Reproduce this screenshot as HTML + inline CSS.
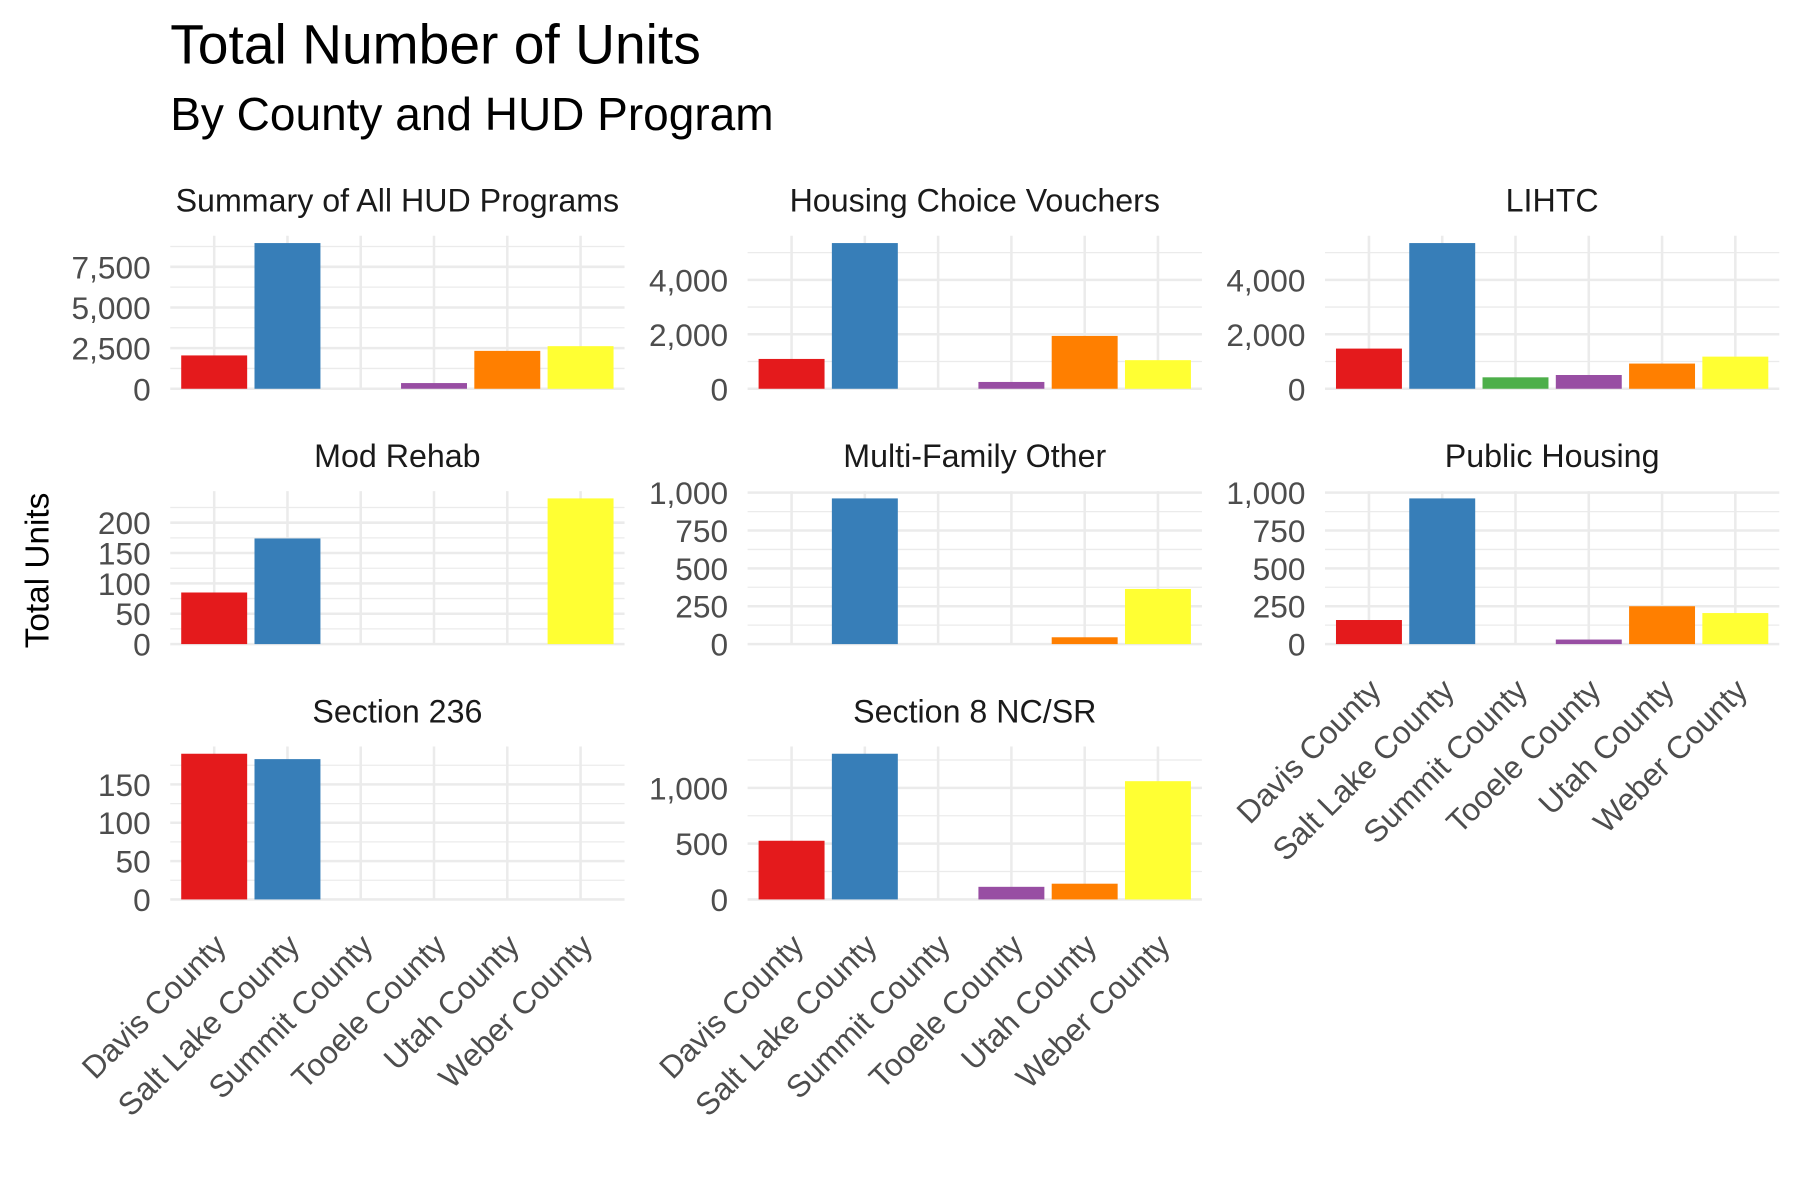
<!DOCTYPE html>
<html><head><meta charset="utf-8"><style>
html,body{margin:0;padding:0;background:#fff;}
svg{display:block;font-family:"Liberation Sans",Arial,sans-serif;}
</style></head><body>
<svg id="chart" width="1800" height="1200" viewBox="0 0 1565 1043.33" xmlns="http://www.w3.org/2000/svg">
<rect x="0" y="0" width="1565" height="1044" fill="#fff"/>
<text x="148" y="55" font-size="48" fill="#000">Total Number of Units</text>
<text x="148" y="113" font-size="40" fill="#000">By County and HUD Program</text>
<text transform="translate(42,496) rotate(-90)" text-anchor="middle" font-size="29" fill="#000">Total Units</text>
<g id="panels"></g>
</svg>
<script>
const categories = ["Davis County","Salt Lake County","Summit County","Tooele County","Utah County","Weber County"];
const colors = ["#E41A1C","#377EB8","#4DAF4A","#984EA3","#FF7F00","#FFFF33"];
const panelTitles = ["Summary of All HUD Programs","Housing Choice Vouchers","LIHTC","Mod Rehab","Multi-Family Other","Public Housing","Section 236","Section 8 NC/SR"];
const summaryValues = [2050, 8960, 0, 350, 2330, 2620];
const hcvValues = [1095, 5350, 0, 250, 1940, 1050];
const lihtcValues = [1475, 5350, 420, 505, 925, 1180];
const modRehabValues = [85, 174, 0, 0, 0, 240];
const mfoValues = [0, 962, 0, 0, 45, 364];
const publicHousingValues = [159, 962, 0, 30, 250, 205];
const section236Values = [190, 183, 0, 0, 0, 0];
const s8Values = [526, 1306, 0, 113, 141, 1060];
const summaryTicks = [0, 2500, 5000, 7500];
const hcvTicks = [0, 2000, 4000];
const lihtcTicks = [0, 2000, 4000];
const modRehabTicks = [0, 50, 100, 150, 200];
const mfoTicks = [0, 250, 500, 750, 1000];
const publicHousingTicks = [0, 250, 500, 750, 1000];
const section236Ticks = [0, 50, 100, 150];
const s8Ticks = [0, 500, 1000];

const series = [summaryValues,hcvValues,lihtcValues,modRehabValues,mfoValues,publicHousingValues,section236Values,s8Values];
const tickSets = [summaryTicks,hcvTicks,lihtcTicks,modRehabTicks,mfoTicks,publicHousingTicks,section236Ticks,s8Ticks];
const NS="http://www.w3.org/2000/svg";
const root=document.getElementById('panels');
function mk(tag,attrs,parent){const e=document.createElementNS(NS,tag);for(const k in attrs)e.setAttribute(k,attrs[k]);parent.appendChild(e);return e;}
const colX=[148,650,1152], rowTop=[205,427,649], PW=395, PH=133;
function fmt(v){return v.toLocaleString('en-US');}
series.forEach((vals,i)=>{
  const col=i%3,row=Math.floor(i/3);
  const x0=colX[col], yT=rowTop[row], yB=yT+PH;
  const g=mk('g',{},root);
  
  
  const maxV=Math.max(...vals);
  const top=maxV*1.05;
  const y=v=>yB-v/top*PH;
  const step=PW/6.2;
  const xc=j=>x0+step*(0.6+j);
  const ticks=tickSets[i];
  for(let k=0;k<ticks.length;k++){
    const d=ticks[1]-ticks[0];
    const mv=ticks[k]+d/2;
    if(mv<=top){const ln=mk('line',{x1:x0,x2:x0+PW,y1:y(mv),y2:y(mv),stroke:'#ebebeb','stroke-width':1.1},g);
      }
  }
  ticks.forEach(t=>{
    const ln=mk('line',{x1:x0,x2:x0+PW,y1:y(t),y2:y(t),stroke:'#ebebeb','stroke-width':2.2},g);
    
    const tx=mk('text',{x:x0-17,y:y(t)+10,'text-anchor':'end','font-size':27.5,fill:'#4d4d4d'},g);
    tx.textContent=fmt(t);
    
  });
  categories.forEach((c,j)=>{
    const ln=mk('line',{x1:xc(j),x2:xc(j),y1:yT,y2:yB,stroke:'#ebebeb','stroke-width':2.2},g);
    
  });
  vals.forEach((v,j)=>{
    if(v<=0)return;
    const bw=step*0.9;
    const r=mk('rect',{x:xc(j)-bw/2,y:y(v),width:bw,height:yB-y(v),fill:colors[j]},g);
    
    
  });
  const st=mk('text',{x:x0+PW/2,y:yT-21,'text-anchor':'middle','font-size':28,fill:'#1a1a1a'},g);
  st.textContent=panelTitles[i];
  
  const isBottom = (row===2) || (row===1 && col===2);
  if(isBottom){
    categories.forEach((c,j)=>{
      const ax=xc(j)+12, ay=yB+42;
      const tx=mk('text',{transform:`translate(${ax},${ay}) rotate(-45)`,'text-anchor':'end','font-size':27.5,fill:'#4d4d4d'},g);
      tx.textContent=c;
      
    });
  }
});
</script>
</body></html>
